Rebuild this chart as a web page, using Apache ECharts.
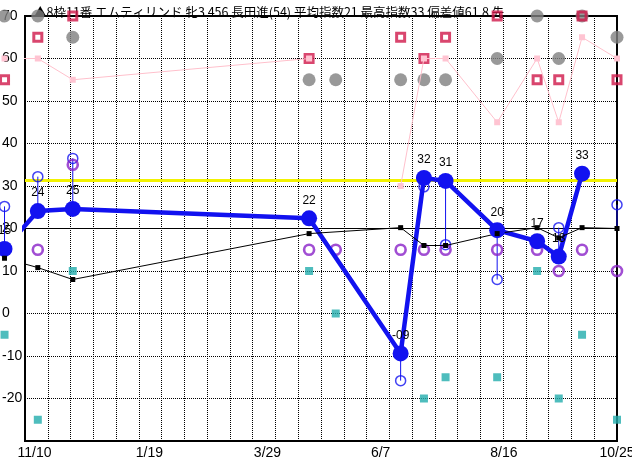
<!DOCTYPE html>
<html><head><meta charset="utf-8">
<script src="https://cdn.jsdelivr.net/npm/echarts@6/dist/echarts.min.js"></script>
<style>html,body{margin:0;padding:0;background:#fff}#c{width:632px;height:460px}</style>
</head><body><div id="c"></div>
<script>
// ---- data (x = days after 11/10) ----
const titleText = '▲8枠11番 エムティリンド 牝3 456 長田進(54) 平均指数21 最高指数33 偏差値61.8 先';
const raceDays    = [-18, 2, 23, 165, 181, 220, 234, 247, 278, 302, 315, 329, 350];
const tickDays    = [0, 69, 140, 208, 282, 350];
const tickLabels  = ['11/10', '1/19', '3/29', '6/7', '8/16', '10/25'];
const yTickValues = [-30, -20, -10, 0, 10, 20, 30, 40, 50, 60, 70];
const mainIndex   = [15.2, 24.1, 24.6, 22.4, null, -9.4, 31.9, 31.2, 19.6, 17.0, 13.4, 32.9, null];
const subIndex    = [25.2, 32.2, 36.5, null, null, -15.8, 29.8, 16.2, 8.0, null, 20.2, null, 25.6];
const purpleVals  = [15, 15, 35, 15, 15, 15, 15, 15, 15, 15, 10, 15, 10];
const tealVals    = [-5, -25, 10, 10, 0, -10, -20, -15, -15, 10, -20, -5, -25];
const blackVals   = [13, 10.8, 8, 18.8, null, 20.2, 16, 16, 18.8, 20.2, 17.8, 20.2, 20];
const pinkVals    = [60, 60, 55, 60, null, 30, 60, 60, 45, 60, 45, 65, 60];
const grayVals    = [70, 70, 65, 55, 55, 55, 55, 55, 60, 70, 60, 70, 65];
const crimsonVals = [55, 65, 70, 60, null, 65, 60, 65, 70, 55, 55, 70, 55];
const averageLine = 31.3;
const baseLine    = 20;
const gridColumns = 26;

const X_MIN = -5.7, X_MAX = 350;
const pairs = vals => raceDays.map((d, i) => [d, vals[i]]);
const segs = [];
raceDays.forEach((d, i) => {
  if (subIndex[i] == null) return;
  const to = mainIndex[i] != null ? mainIndex[i] : blackVals[i];
  segs.push([d, subIndex[i], to]);
});
function fmtMain(v) {
  const r = Math.round(v);
  if (r < 0) return '-' + String(-r).padStart(2, '0');
  return String(r);
}
const FONT = 'Liberation Sans';
const ZL = 1;
const chart = echarts.init(document.getElementById('c'), null, {renderer: 'canvas'});
chart.setOption({
  animation: false,
  backgroundColor: '#fff',
  title: {
    text: titleText, left: 29, top: 1,
    textStyle: {fontSize: 12.5, fontWeight: 'normal', color: '#000', fontFamily: 'Noto Sans CJK JP'}
  },
  grid: {left: 25, right: 15, top: 16, bottom: 19, show: true, borderColor: '#000', borderWidth: 2,
         backgroundColor: 'transparent', containLabel: false, outerBoundsMode: 'none'},
  xAxis: [{
    type: 'value', min: X_MIN, max: X_MAX,
    axisLine: {show: false}, axisTick: {show: false}, splitLine: {show: false},
    axisLabel: {customValues: tickDays, formatter: v => tickLabels[tickDays.indexOf(v)] || '',
      color: '#000', fontSize: 14, fontFamily: FONT, margin: 5, hideOverlap: false,
      showMinLabel: true, showMaxLabel: true}
  }, {
    type: 'value', min: 0, max: gridColumns, interval: 1, position: 'bottom',
    axisLine: {show: false}, axisTick: {show: false}, axisLabel: {show: false},
    splitLine: {show: true, lineStyle: {color: '#000', width: 1, type: [1, 1]}}
  }],
  yAxis: {
    type: 'value', min: -30, max: 70, interval: 10,
    axisLine: {show: false}, axisTick: {show: false},
    axisLabel: {color: '#000', fontSize: 14, fontFamily: FONT, align: 'left', margin: 23,
      formatter: v => (v === yTickValues[0] ? '' : String(v))},
    splitLine: {show: true, lineStyle: {color: '#000', width: 1, type: [1, 1]}}
  },
  series: [
    {
      type: 'line', name: 'pink', data: pairs(pinkVals), connectNulls: false, clip: false, zlevel: ZL,
      symbol: 'rect', symbolSize: 6, itemStyle: {color: '#FFC4D2'},
      lineStyle: {color: '#FFC0CC', width: 1},
      markLine: {
        silent: true, symbol: 'none', label: {show: false}, animation: false,
        data: [
          {yAxis: baseLine, lineStyle: {color: '#000', width: 1, type: 'solid'}},
          {yAxis: averageLine, lineStyle: {color: '#F2F200', width: 3, type: 'solid'}}
        ]
      }
    },
    {
      type: 'line', name: 'main', data: pairs(mainIndex), connectNulls: true, clip: false, zlevel: ZL,
      symbol: 'circle', symbolSize: 16, itemStyle: {color: '#1212F0'},
      lineStyle: {color: '#1212F0', width: 4.5},
      label: {show: true, position: 'top', distance: 4, color: '#000', fontSize: 12, fontFamily: FONT,
        formatter: p => fmtMain(p.value[1])}
    },
    {
      type: 'custom', name: 'range', data: segs, clip: false, zlevel: ZL,
      renderItem: (params, api) => {
        const a = api.coord([api.value(0), api.value(1)]);
        const b = api.coord([api.value(0), api.value(2)]);
        return {type: 'line', shape: {x1: a[0], y1: a[1], x2: b[0], y2: b[1]},
          style: {stroke: '#1212F0', lineWidth: 1}};
      }
    },
    {
      type: 'scatter', name: 'sub', data: pairs(subIndex), clip: false, zlevel: ZL,
      symbol: 'circle', symbolSize: 10,
      itemStyle: {color: 'rgba(255,255,255,0)', borderColor: '#1212F0', borderWidth: 1.5}
    },
    {
      type: 'scatter', name: 'purple', data: pairs(purpleVals), clip: false, zlevel: ZL,
      symbol: 'circle', symbolSize: 10,
      itemStyle: {color: 'rgba(255,255,255,0)', borderColor: '#8A22C8', borderWidth: 2.6}
    },
    {
      type: 'scatter', name: 'teal', data: pairs(tealVals), clip: false, zlevel: ZL,
      symbol: 'rect', symbolSize: 8, itemStyle: {color: '#22ADAD'}
    },
    {
      type: 'line', name: 'black', data: pairs(blackVals), connectNulls: true, clip: false, zlevel: ZL,
      symbol: 'rect', symbolSize: 5, itemStyle: {color: '#000'},
      lineStyle: {color: '#000', width: 1}
    },
    {
      type: 'scatter', name: 'gray', data: pairs(grayVals), clip: false, zlevel: ZL,
      symbol: 'circle', symbolSize: 13, itemStyle: {color: '#808080'}
    },
    {
      type: 'scatter', name: 'crimson', data: pairs(crimsonVals), clip: false, zlevel: ZL,
      symbol: 'rect', symbolSize: 8,
      itemStyle: {color: 'rgba(255,255,255,0)', borderColor: '#D0184A', borderWidth: 3}
    }
  ]
});
</script></body></html>
